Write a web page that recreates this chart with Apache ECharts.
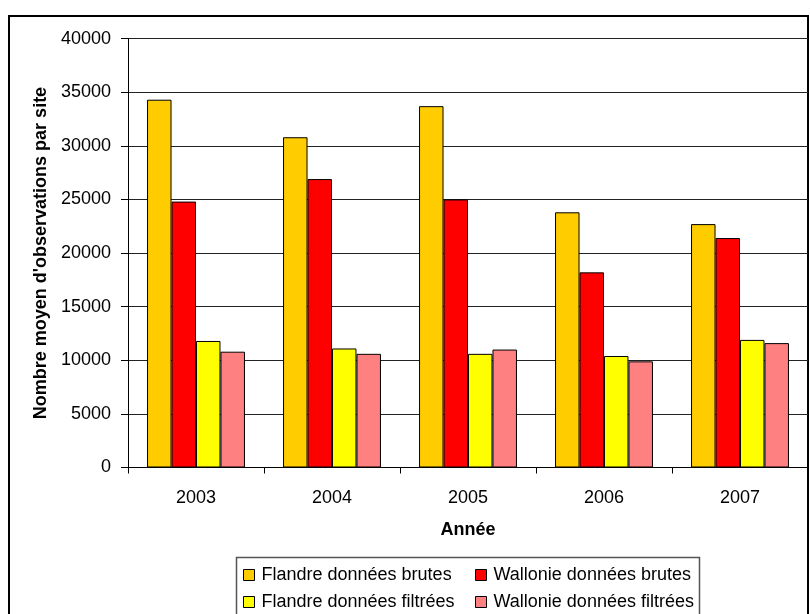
<!DOCTYPE html>
<html>
<head>
<meta charset="utf-8">
<script src="https://cdn.jsdelivr.net/npm/echarts@6/dist/echarts.min.js"></script>
<style>
  html, body { margin: 0; padding: 0; background: #fff; }
  #chart { width: 810px; height: 614px; }
</style>
</head>
<body>
<div id="chart"></div>
<script>
// Years on the category axis
const years = ['2003', '2004', '2005', '2006', '2007'];

// Mean number of observations per site
const flandreBrutes = [34300, 30800, 33700, 23800, 22700];
const wallonieBrutes = [24800, 26900, 25000, 18200, 21400];
const flandreFiltrees = [11800, 11100, 10600, 10400, 11900];
const wallonieFiltrees = [10800, 10600, 11000, 9900, 11600];

// Value axis ticks
const yTicks = [0, 5000, 10000, 15000, 20000, 25000, 30000, 35000, 40000];

const seriesNames = [
  'Flandre données brutes',
  'Wallonie données brutes',
  'Flandre données filtrées',
  'Wallonie données filtrées'
];
const seriesData = [flandreBrutes, wallonieBrutes, flandreFiltrees, wallonieFiltrees];
const seriesColors = ['#FFCC00', '#FF0000', '#FFFF00', '#FF8080'];

const FONT = '"Liberation Sans", Arial, sans-serif';

const chart = echarts.init(document.getElementById('chart'), null, { renderer: 'canvas' });

// One legend entry per slot: two columns, two rows
const legendSlots = [
  { left: 243, top: 566 },
  { left: 475, top: 566 },
  { left: 243, top: 593 },
  { left: 475, top: 593 }
];

const legends = seriesNames.map(function (name, i) {
  return {
    data: [{ name: name, icon: 'rect' }],
    left: legendSlots[i].left,
    top: legendSlots[i].top,
    padding: 0,
    itemWidth: 11,
    itemHeight: 11,
    itemStyle: { borderColor: '#000', borderWidth: 1 },
    textStyle: {
      fontFamily: FONT,
      fontSize: 18,
      color: '#000',
      lineHeight: 18,
      padding: [0, 0, 0, 2]
    },
    selectedMode: false
  };
});

chart.setOption({
  animation: false,
  backgroundColor: '#fff',
  textStyle: { fontFamily: FONT },
  grid: { left: 128, right: 2, top: 38.6, bottom: 146.5, containLabel: false },
  graphic: [
    {
      type: 'rect',
      silent: true,
      z: -10,
      shape: { x: 9, y: 16, width: 799, height: 700 },
      style: { fill: null, stroke: '#000', lineWidth: 2 }
    },
    {
      type: 'rect',
      silent: true,
      z: -5,
      shape: { x: 236.5, y: 557.5, width: 463, height: 80 },
      style: { fill: '#fff', stroke: '#555', lineWidth: 1.5 }
    }
  ],
  legend: legends,
  xAxis: {
    type: 'category',
    data: years,
    boundaryGap: true,
    name: 'Année',
    nameLocation: 'middle',
    nameGap: 54,
    nameTextStyle: { fontFamily: FONT, fontSize: 18, fontWeight: 'bold', color: '#000' },
    axisLine: { show: true, lineStyle: { color: '#000', width: 1 } },
    axisTick: { show: true, alignWithLabel: false, length: 6, lineStyle: { color: '#000' } },
    axisLabel: { fontFamily: FONT, fontSize: 18, color: '#000', margin: 22 },
    splitLine: { show: false }
  },
  yAxis: {
    type: 'value',
    min: 0,
    max: 40000,
    interval: 5000,
    name: "Nombre moyen d'observations par site",
    nameLocation: 'middle',
    nameRotate: 90,
    nameGap: 75,
    nameTextStyle: { fontFamily: FONT, fontSize: 18, fontWeight: 'bold', color: '#000' },
    axisLine: { show: true, lineStyle: { color: '#000', width: 1 } },
    axisTick: { show: true, length: 7, lineStyle: { color: '#000' } },
    axisLabel: {
      fontFamily: FONT,
      fontSize: 18,
      color: '#000',
      margin: 17,
      formatter: function (v) { return yTicks.indexOf(v) >= 0 ? String(v) : ''; }
    },
    splitLine: { show: true, lineStyle: { color: '#222', width: 1 } }
  },
  series: seriesNames.map(function (name, i) {
    return {
      name: name,
      type: 'bar',
      data: seriesData[i],
      barGap: '0%',
      barCategoryGap: '28%',
      itemStyle: { color: seriesColors[i], borderColor: '#000', borderWidth: 1 }
    };
  })
});
</script>
</body>
</html>
